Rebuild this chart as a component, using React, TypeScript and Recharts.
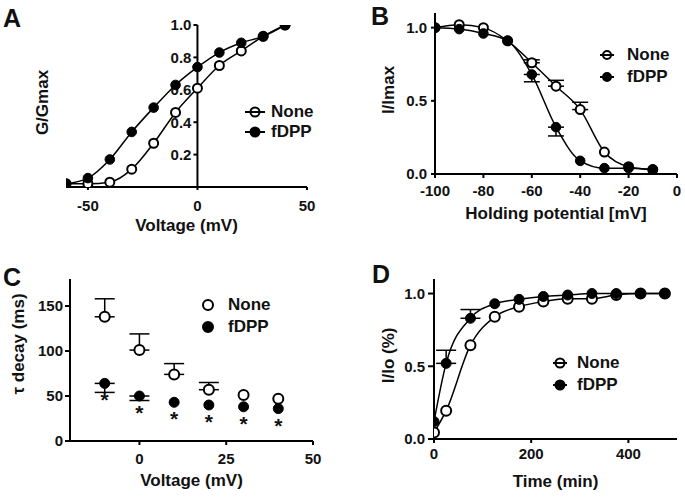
import React from 'react';
import {
  ComposedChart, XAxis, YAxis, Line, Scatter, ErrorBar, ReferenceLine, ReferenceDot, Legend,
} from 'recharts';

// ---------- Data ----------
// Panel A: G/Gmax vs voltage
const aVoltage = [-60, -50, -40, -30, -20, -10, 0, 10, 20, 30, 40];
const aNone = [0.02, 0.02, 0.03, 0.11, 0.27, 0.46, 0.61, 0.75, 0.84, 0.93, 1.0];
const aFdpp = [0.02, 0.055, 0.17, 0.34, 0.49, 0.63, 0.74, 0.83, 0.89, 0.93, 1.0];
const aXTicks = [-50, 0, 50];
const aYTicks = [0.2, 0.4, 0.6, 0.8, 1.0];

// Panel B: I/Imax vs holding potential
const bPotential = [-100, -90, -80, -70, -60, -50, -40, -30, -20, -10];
const bNone = [1.0, 1.02, 1.0, 0.91, 0.76, 0.6, 0.44, 0.15, 0.05, 0.03];
const bNoneErr = [0, 0, 0, 0, 0.02, 0.04, 0.05, 0, 0, 0];
const bFdpp = [1.0, 0.99, 0.96, 0.91, 0.68, 0.32, 0.09, 0.04, 0.04, 0.03];
const bFdppErr = [0, 0, 0, 0, 0.05, 0.06, 0, 0, 0, 0];
const bXTicks = [-100, -80, -60, -40, -20, 0];
const bYTicks = [0, 0.5, 1.0];

// Panel C: tau decay vs voltage
const cVoltage = [-10, 0, 10, 20, 30, 40];
const cNone = [138, 101, 74, 57, 51, 47];
const cNoneErr = [20, 18, 12, 8, 0, 0];
const cFdpp = [64, 50, 43, 40, 38, 36];
const cFdppErr = [10, 5, 0, 0, 0, 0];
const cSig = ['*', '*', '*', '*', '*', '*'];
const cXTicks = [0, 25, 50];
const cYTicks = [0, 50, 100, 150];

// Panel D: I/Io vs time
const dTime = [0, 25, 75, 125, 175, 225, 275, 325, 375, 425, 475];
const dNone = [0.045, 0.195, 0.645, 0.84, 0.91, 0.945, 0.965, 0.965, 0.99, 1.0, 1.0];
const dFdpp = [0.12, 0.52, 0.83, 0.93, 0.96, 0.98, 0.99, 1.0, 1.0, 1.0, 1.0];
const dFdppErr = [0, 0.09, 0.06, 0, 0, 0, 0, 0, 0, 0, 0];
const dXTicks = [0, 200, 400];
const dYTicks = [0, 0.5, 1.0];

const seriesNames = ['None', 'fDPP'];

// ---------- Helpers ----------
const FONT = '"Liberation Sans", Arial, Helvetica, sans-serif';
const INK = '#111';
const tickStyle = { fill: INK, fontSize: 15, fontWeight: 700, fontFamily: FONT };

const zip = (xs: number[], ys: number[], errs?: number[], up = true, extra?: string[]) =>
  xs.map((x, i) => ({
    x,
    y: ys[i],
    err: errs && errs[i] ? (up ? [0, errs[i]] : [errs[i], 0]) : null,
    sig: extra ? extra[i] : undefined,
  }));

const Nothing = () => <g />;
const OpenDot = (r: number) => (p: any) =>
  p.cx == null ? <g /> : <circle cx={p.cx} cy={p.cy} r={r} fill="#fff" stroke="#000" strokeWidth={2} />;
const FilledDot = (r: number) => (p: any) =>
  p.cx == null ? <g /> : <circle cx={p.cx} cy={p.cy} r={r} fill="#000" stroke="#000" strokeWidth={1} />;

const StarDot = (r: number) => (p: any) =>
  p.cx == null ? <g /> : (
    <g>
      <circle cx={p.cx} cy={p.cy} r={r} fill="#000" stroke="#000" strokeWidth={1} />
      {p.payload && p.payload.sig ? (
        <text x={p.cx} y={p.cy + 24} textAnchor="middle" fontSize={21} fontWeight={700} fontFamily={FONT} fill={INK}>
          {p.payload.sig}
        </text>
      ) : null}
    </g>
  );

const XTitle = (props: any) => {
  const vb = props.viewBox || {};
  return (
    <text
      x={vb.x + vb.width / 2}
      y={vb.y + vb.height - props.offsetB}
      textAnchor="middle"
      fontSize={17}
      fontWeight={700}
      fontFamily={FONT}
      fill={INK}
    >
      {props.text}
    </text>
  );
};

const YTitle = (props: any) => {
  const vb = props.viewBox || {};
  const px = vb.x + vb.width / 2 + (props.shift || 0);
  const py = vb.y + vb.height / 2 + (props.vshift || 0);
  return (
    <text
      x={px}
      y={py}
      transform={`rotate(-90 ${px} ${py})`}
      textAnchor="middle"
      dominantBaseline="central"
      fontSize={17}
      fontWeight={700}
      fontFamily={FONT}
      fill={INK}
    >
      {props.text}
    </text>
  );
};

const LegendBox = ({ rowH, lineLen, r, gap, showLine }: any) => (
  <div style={{ fontFamily: FONT, fontWeight: 700, fontSize: 17, color: INK }}>
    {seriesNames.map((name, i) => (
      <div key={name} style={{ display: 'flex', alignItems: 'center', height: rowH }}>
        <svg width={lineLen} height={rowH} style={{ display: 'block' }}>
          <circle
            cx={lineLen / 2}
            cy={rowH / 2}
            r={r}
            fill={i === 0 ? '#fff' : '#000'}
            stroke="#000"
            strokeWidth={2}
          />
          {showLine ? (
            <line x1={0} x2={lineLen} y1={rowH / 2} y2={rowH / 2} stroke="#000" strokeWidth={2} />
          ) : null}
        </svg>
        <span style={{ marginLeft: gap, lineHeight: rowH + 'px' }}>{name}</span>
      </div>
    ))}
  </div>
);

const axisCommon = {
  stroke: '#000',
  axisLine: { stroke: '#000', strokeWidth: 2 },
  tickLine: { stroke: '#000', strokeWidth: 2 },
  tick: tickStyle,
};

const PanelLetter = ({ letter, left, top }: any) => (
  <div
    style={{
      position: 'absolute', left, top, fontFamily: FONT, fontWeight: 700, fontSize: 25,
      lineHeight: '25px', color: INK,
    }}
  >
    {letter}
  </div>
);

// ---------- Panels ----------
function PanelA() {
  const none = zip(aVoltage, aNone);
  const fdpp = zip(aVoltage, aFdpp);
  return (
    <ComposedChart width={340} height={245} margin={{ top: 25, right: 33, bottom: 0, left: 0 }}>
      <XAxis
        type="number" dataKey="x" domain={[-60, 50]} allowDataOverflow ticks={aXTicks} interval={0}
        height={58} tickSize={3} tickMargin={10} {...axisCommon}
        label={<XTitle text="Voltage (mV)" offsetB={14} />}
      />
      <YAxis
        type="number" dataKey="y" domain={[0, 1]} allowDataOverflow width={66}
        axisLine={false} tickLine={false} tick={false}
        label={<YTitle text="G/Gmax" shift={9.5} vshift={-3.5} />}
      />
      <ReferenceLine x={0} stroke="#000" strokeWidth={2} />
      {aYTicks.map((t) => (
        <ReferenceDot
          key={t} x={0} y={t} r={0}
          shape={(p: any) => (
            <g>
              <line x1={p.cx - 4} x2={p.cx} y1={p.cy} y2={p.cy} stroke="#000" strokeWidth={2} />
              <text x={p.cx - 6} y={p.cy} dy="0.355em" textAnchor="end" {...tickStyle}>{t.toFixed(1)}</text>
            </g>
          )}
        />
      ))}
      <Line data={none} dataKey="y" type="monotone" dot={false} stroke="#000" strokeWidth={1.5} isAnimationActive={false} />
      <Line data={fdpp} dataKey="y" type="monotone" dot={false} stroke="#000" strokeWidth={1.5} isAnimationActive={false} />
      <Scatter data={none} dataKey="y" shape={OpenDot(4.5)} isAnimationActive={false} />
      <Scatter data={fdpp} dataKey="y" shape={FilledDot(4.8)} isAnimationActive={false} />
      <Legend
        layout="vertical" align="center" verticalAlign="middle"
        wrapperStyle={{ left: 245, top: 102, width: 'auto' }}
        content={() => <LegendBox rowH={20} lineLen={20} r={4.5} gap={6} showLine />}
      />
    </ComposedChart>
  );
}

function PanelB() {
  const none = zip(bPotential, bNone, bNoneErr, true);
  const fdpp = zip(bPotential, bFdpp, bFdppErr, false);
  return (
    <ComposedChart width={345} height={245} margin={{ top: 13, right: 8, bottom: 0, left: 0 }}>
      <XAxis
        type="number" dataKey="x" domain={[-100, 0]} allowDataOverflow ticks={bXTicks} interval={0}
        height={71} tickSize={4} tickMargin={7} {...axisCommon}
        label={<XTitle text="Holding potential [mV]" offsetB={26} />}
      />
      <YAxis
        type="number" dataKey="y" domain={[0, 1.1]} allowDataOverflow ticks={bYTicks} interval={0}
        width={95} tickSize={4} tickMargin={4} {...axisCommon}
        tickFormatter={(v: number) => v.toFixed(1)}
        label={<YTitle text="I/Imax" shift={1} vshift={-3.5} />}
      />
      <Line data={none} dataKey="y" type="monotone" dot={false} stroke="#000" strokeWidth={1.5} isAnimationActive={false} />
      <Line data={fdpp} dataKey="y" type="monotone" dot={false} stroke="#000" strokeWidth={1.5} isAnimationActive={false} />
      <Scatter data={none} dataKey="y" shape={Nothing} isAnimationActive={false}>
        <ErrorBar dataKey="err" direction="y" width={8} stroke="#000" strokeWidth={1.5} />
      </Scatter>
      <Scatter data={fdpp} dataKey="y" shape={Nothing} isAnimationActive={false}>
        <ErrorBar dataKey="err" direction="y" width={8} stroke="#000" strokeWidth={1.5} />
      </Scatter>
      <Scatter data={none} dataKey="y" shape={OpenDot(4.5)} isAnimationActive={false} />
      <Scatter data={fdpp} dataKey="y" shape={FilledDot(4.8)} isAnimationActive={false} />
      <Legend
        layout="vertical" align="center" verticalAlign="middle"
        wrapperStyle={{ left: 260, top: 44, width: 'auto' }}
        content={() => <LegendBox rowH={22} lineLen={14} r={4} gap={13} showLine />}
      />
    </ComposedChart>
  );
}

function PanelC() {
  const none = zip(cVoltage, cNone, cNoneErr, true);
  const fdpp = zip(cVoltage, cFdpp, cFdppErr, false, cSig);
  return (
    <ComposedChart width={340} height={252} margin={{ top: 34, right: 27, bottom: 0, left: 0 }}>
      <XAxis
        type="number" dataKey="x" domain={[-20, 50]} allowDataOverflow ticks={cXTicks} interval={0}
        height={56} tickSize={4} tickMargin={8} {...axisCommon}
        label={<XTitle text="Voltage (mV)" offsetB={11} />}
      />
      <YAxis
        type="number" dataKey="y" domain={[0, 180]} allowDataOverflow ticks={cYTicks} interval={0}
        width={70} tickSize={5} tickMargin={2} {...axisCommon}
        label={<YTitle text="τ decay (ms)" shift={-16.5} vshift={-16} />}
      />
      <Scatter data={none} dataKey="y" shape={Nothing} isAnimationActive={false}>
        <ErrorBar dataKey="err" direction="y" width={10} stroke="#000" strokeWidth={1.5} />
      </Scatter>
      <Scatter data={fdpp} dataKey="y" shape={Nothing} isAnimationActive={false}>
        <ErrorBar dataKey="err" direction="y" width={10} stroke="#000" strokeWidth={1.5} />
      </Scatter>
      <Scatter data={none} dataKey="y" shape={OpenDot(5)} isAnimationActive={false} />
      <Scatter data={fdpp} dataKey="y" shape={StarDot(5)} isAnimationActive={false} />
      <Legend
        layout="vertical" align="center" verticalAlign="middle"
        wrapperStyle={{ left: 202, top: 49, width: 'auto' }}
        content={() => <LegendBox rowH={22} lineLen={12} r={5} gap={14} showLine={false} />}
      />
    </ComposedChart>
  );
}

function PanelD() {
  const none = zip(dTime, dNone);
  const fdpp = zip(dTime, dFdpp, dFdppErr, true);
  return (
    <ComposedChart width={345} height={252} margin={{ top: 34, right: 8, bottom: 0, left: 0 }}>
      <XAxis
        type="number" dataKey="x" domain={[0, 500]} allowDataOverflow ticks={dXTicks} interval={0}
        height={58} tickSize={4} tickMargin={5} {...axisCommon}
        label={<XTitle text="Time (min)" offsetB={10} />}
      />
      <YAxis
        type="number" dataKey="y" domain={[0, 1.1]} allowDataOverflow ticks={dYTicks} interval={0}
        width={94} tickSize={6} tickMargin={3} {...axisCommon}
        tickFormatter={(v: number) => v.toFixed(1)}
        label={<YTitle text="I/Io (%)" shift={2} vshift={-3.6} />}
      />
      <Line data={none} dataKey="y" type="monotone" dot={false} stroke="#000" strokeWidth={1.5} isAnimationActive={false} />
      <Line data={fdpp} dataKey="y" type="monotone" dot={false} stroke="#000" strokeWidth={1.5} isAnimationActive={false} />
      <Scatter data={fdpp} dataKey="y" shape={Nothing} isAnimationActive={false}>
        <ErrorBar dataKey="err" direction="y" width={10} stroke="#000" strokeWidth={1.5} />
      </Scatter>
      <Scatter data={none} dataKey="y" shape={OpenDot(5)} isAnimationActive={false} />
      <Scatter data={fdpp} dataKey="y" shape={FilledDot(5)} isAnimationActive={false} />
      <Legend
        layout="vertical" align="center" verticalAlign="middle"
        wrapperStyle={{ left: 213, top: 107, width: 'auto' }}
        content={() => <LegendBox rowH={22} lineLen={14} r={4.5} gap={10} showLine />}
      />
    </ComposedChart>
  );
}

export default function App() {
  return (
    <div style={{ position: 'absolute', left: 0, top: 0, width: 685, height: 497, background: '#fff', overflow: 'hidden' }}>
      <div style={{ position: 'absolute', left: 0, top: 0 }}><PanelA /></div>
      <div style={{ position: 'absolute', left: 340, top: 0 }}><PanelB /></div>
      <div style={{ position: 'absolute', left: 0, top: 245 }}><PanelC /></div>
      <div style={{ position: 'absolute', left: 340, top: 245 }}><PanelD /></div>
      <PanelLetter letter="A" left={3} top={6} />
      <PanelLetter letter="B" left={371} top={4} />
      <PanelLetter letter="C" left={3} top={265} />
      <PanelLetter letter="D" left={372} top={262} />
    </div>
  );
}
